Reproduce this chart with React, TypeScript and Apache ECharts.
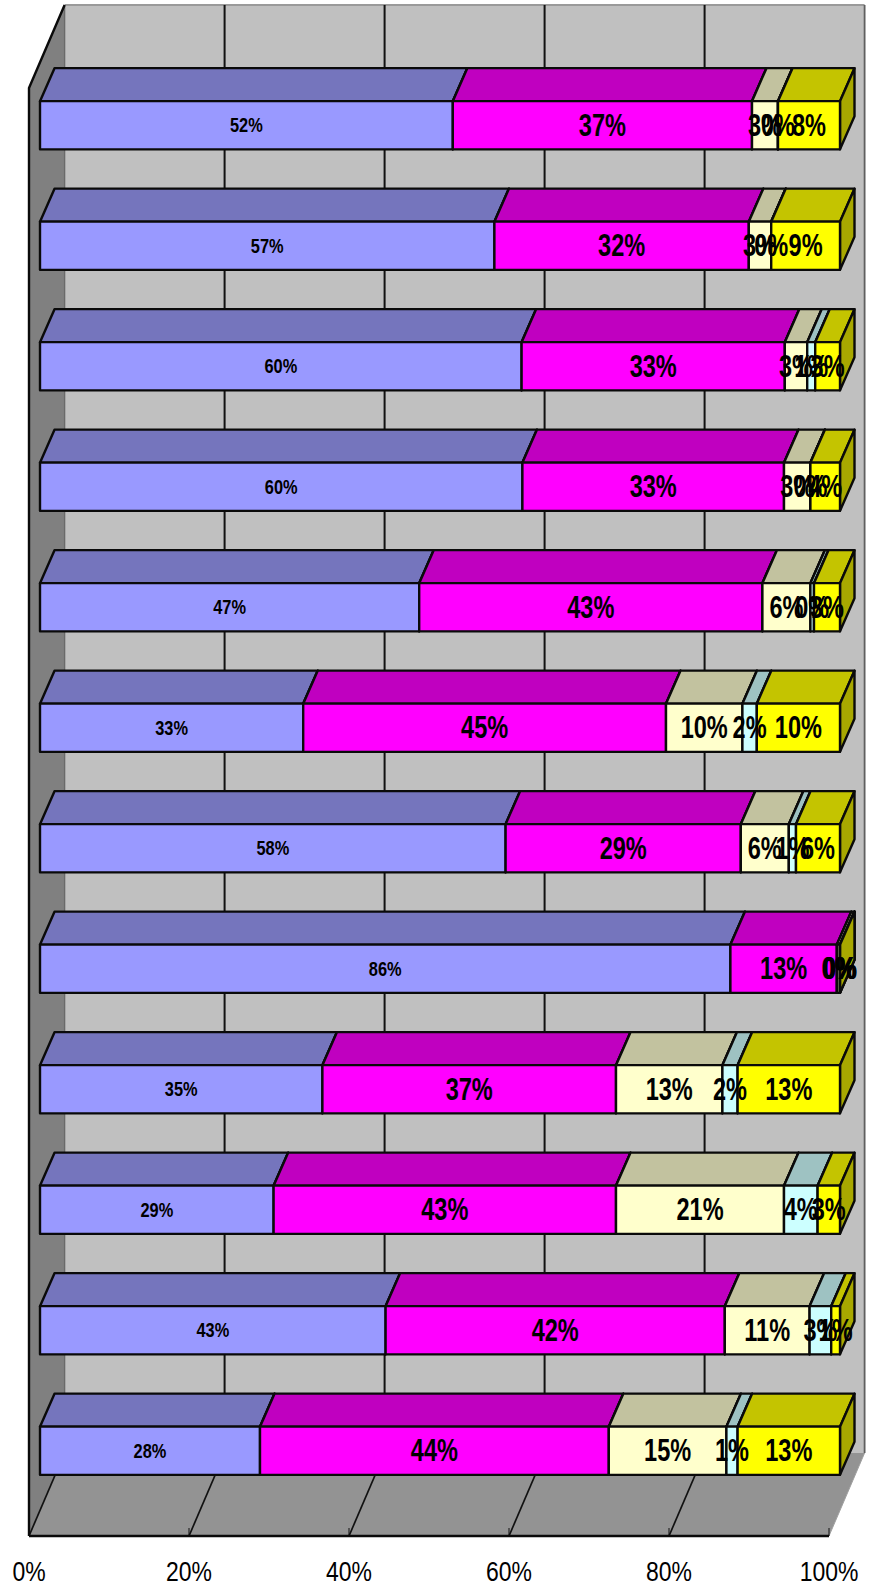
import React, { useEffect, useRef } from "react";
import * as echarts from "echarts";

const rowNames = ["1", "2", "3", "4", "5", "6", "7", "8", "9", "10", "11", "12"];
const axisTicks = [0, 20, 40, 60, 80, 100];
const seriesA = [51.6, 56.8, 60.2, 60.3, 47.4, 32.9, 58.2, 86.3, 35.3, 29.2, 43.2, 27.5];
const seriesB = [37.4, 31.8, 32.9, 32.7, 42.9, 45.35, 29.4, 13.3, 36.7, 42.8, 42.4, 43.6];
const seriesC = [3.25, 2.8, 2.8, 3.3, 6.0, 9.55, 6.0, 0.4, 13.3, 21.0, 10.6, 14.7];
const seriesD = [0, 0, 1.0, 0, 0.45, 1.8, 0.9, 0, 1.9, 4.2, 2.7, 1.4];
const seriesE = [7.75, 8.6, 3.1, 3.7, 3.25, 10.4, 5.5, 0, 12.8, 2.8, 1.1, 12.8];
const allSeries = [seriesA, seriesB, seriesC, seriesD, seriesE];
const frontColors = ["#9999FF", "#FF00FF", "#FFFFCC", "#CCFFFF", "#FFFF00"];
const topColors = ["#7575BD", "#C000C0", "#C2C29F", "#9EC2C2", "#C4C400"];
const sideColors = ["#6666A8", "#A800A8", "#A8A88C", "#8CA8A8", "#A8A800"];

const WALL_DX = 35.6;
const WALL_DY = -83;
const BAR_DX = 14.5;
const BAR_DY = -33;
const EDGE = "#0a0a0a";
const FONT = '"Liberation Sans", Arial, sans-serif';

function poly(points: number[][], fill: string, z2 = 0, stroke?: string, lineWidth = 2.4) {
  return {
    type: "polygon",
    z2,
    shape: { points },
    style: { fill, stroke: stroke || "none", lineWidth, lineJoin: "round" },
  };
}
function lineEl(pts: number[][], stroke: string, lineWidth: number, z2 = 1) {
  return {
    type: "polyline",
    z2,
    shape: { points: pts },
    style: { fill: "none", stroke, lineWidth, lineJoin: "round" },
  };
}

export default function App() {
  const ref = useRef<HTMLDivElement>(null);
  useEffect(() => {
    const chart = echarts.init(ref.current!, null, { renderer: "svg" });

    const renderWall = (params: any, api: any) => {
      const v = api.value(0);
      const [x, yFront] = api.coord([v, 0]);
      const [, yTop] = api.coord([v, 1]);
      const backBottom = yFront + WALL_DY;
      const backTop = yTop + WALL_DY;
      const children: any[] = [];
      if (params.dataIndex === 0) {
        const [xEnd] = api.coord([100, 0]);
        children.push(
          poly([[x + WALL_DX, backTop], [xEnd + WALL_DX, backTop], [xEnd + WALL_DX, backBottom], [x + WALL_DX, backBottom]], "#C0C0C0", 0),
          poly([[x, yTop], [x + WALL_DX, backTop], [x + WALL_DX, backBottom], [x, yFront]], "#808080", 0),
          poly([[x, yFront], [xEnd, yFront], [xEnd + WALL_DX, backBottom], [x + WALL_DX, backBottom]], "#939393", 0),
          lineEl([[x + WALL_DX, backTop], [xEnd + WALL_DX, backTop]], "#9a9a9a", 1.8),
          lineEl([[xEnd + WALL_DX, backTop], [xEnd + WALL_DX, backBottom]], "#5f5f5f", 1.8),
          lineEl([[xEnd + WALL_DX, backBottom], [xEnd, yFront]], "#a0a0a0", 1),
          lineEl([[x, yFront], [x, yTop], [x + WALL_DX, backTop]], EDGE, 2.4, 3),
          lineEl([[x, yFront], [xEnd, yFront]], EDGE, 2.4, 3)
        );
      }
      const inner = v !== 0 && v !== 100;
      if (v !== 100) {
        children.push(
          lineEl([[x + WALL_DX, backTop], [x + WALL_DX, backBottom]], inner ? "#111111" : "#6a6a6a", inner ? 2 : 1.4)
        );
        children.push(lineEl([[x + WALL_DX, backBottom], [x, yFront]], "#111111", 1.7, 2));
      }
      if (v !== 0) children.push(lineEl([[x, yFront - 8], [x, yFront]], "#111111", 1, 2));
      children.push({
        type: "text",
        x,
        y: yFront + 35,
        scaleX: 0.82,
        style: {
          text: v + "%",
          fill: "#000000",
          fontFamily: FONT,
          fontSize: 28,
          align: "center",
          verticalAlign: "middle",
        },
      });
      return { type: "group", children };
    };

    const renderSegment = (seriesIndex: number) => (_p: any, api: any) => {
      const row = api.value(2);
      const [x0, yc] = api.coord([api.value(0), row]);
      const [x1] = api.coord([api.value(1), row]);
      const h = api.size([0, 1])[1] * 0.4;
      const yT = yc - h / 2;
      const yB = yc + h / 2;
      return {
        type: "group",
        children: [
          poly([[x0, yT], [x1, yT], [x1 + BAR_DX, yT + BAR_DY], [x0 + BAR_DX, yT + BAR_DY]], topColors[seriesIndex], 0, EDGE),
          poly([[x1, yT], [x1 + BAR_DX, yT + BAR_DY], [x1 + BAR_DX, yB + BAR_DY], [x1, yB]], sideColors[seriesIndex], 0, EDGE),
          poly([[x0, yT], [x1, yT], [x1, yB], [x0, yB]], frontColors[seriesIndex], 1, EDGE),
        ],
      };
    };

    const renderLabel = (_p: any, api: any) => {
      const mid = api.value(0);
      const row = api.value(1);
      const s = api.value(2);
      const [x, y] = api.coord([mid, row]);
      return {
        type: "text",
        x,
        y,
        scaleX: s === 0 ? 0.78 : 0.76,
        style: {
          text: Math.round(api.value(3)) + "%",
          fill: "#000000",
          fontFamily: FONT,
          fontWeight: "bold",
          fontSize: s === 0 ? 21 : 31,
          align: "center",
          verticalAlign: "middle",
        },
      };
    };

    const segmentSeries = allSeries.map((vals, s) => ({
      type: "custom",
      name: "s" + s,
      xAxisIndex: 1,
      yAxisIndex: 1,
      z: 3 + s,
      clip: false,
      silent: true,
      renderItem: renderSegment(s),
      data: vals.map((v, row) => {
        let start = 0;
        for (let k = 0; k < s; k++) start += allSeries[k][row];
        return [start, start + v, row];
      }),
    }));

    const labelData: number[][] = [];
    allSeries.forEach((vals, s) =>
      vals.forEach((v, row) => {
        let start = 0;
        for (let k = 0; k < s; k++) start += allSeries[k][row];
        labelData.push([start + v / 2, row, s, v]);
      })
    );

    chart.setOption({
      animation: false,
      backgroundColor: "#ffffff",
      grid: [
        { left: 29, width: 800, top: 88, height: 1448 },
        { left: 40, width: 800, top: 65, height: 1446 },
      ],
      xAxis: [
        { type: "value", gridIndex: 0, min: 0, max: 100, interval: 20, show: false },
        { type: "value", gridIndex: 1, min: 0, max: 100, show: false },
      ],
      yAxis: [
        { type: "value", gridIndex: 0, min: 0, max: 1, show: false },
        { type: "category", gridIndex: 1, inverse: true, data: rowNames, show: false },
      ],
      series: [
        {
          type: "custom",
          name: "walls",
          xAxisIndex: 0,
          yAxisIndex: 0,
          z: 1,
          clip: false,
          silent: true,
          renderItem: renderWall,
          data: axisTicks.map((t) => [t]),
        },
        ...segmentSeries,
        {
          type: "custom",
          name: "labels",
          xAxisIndex: 1,
          yAxisIndex: 1,
          z: 20,
          clip: false,
          silent: true,
          renderItem: renderLabel,
          data: labelData,
        },
      ],
    });
    return () => chart.dispose();
  }, []);
  return <div ref={ref} style={{ position: "fixed", left: 0, top: 0, width: 873, height: 1588 }} />;
}
